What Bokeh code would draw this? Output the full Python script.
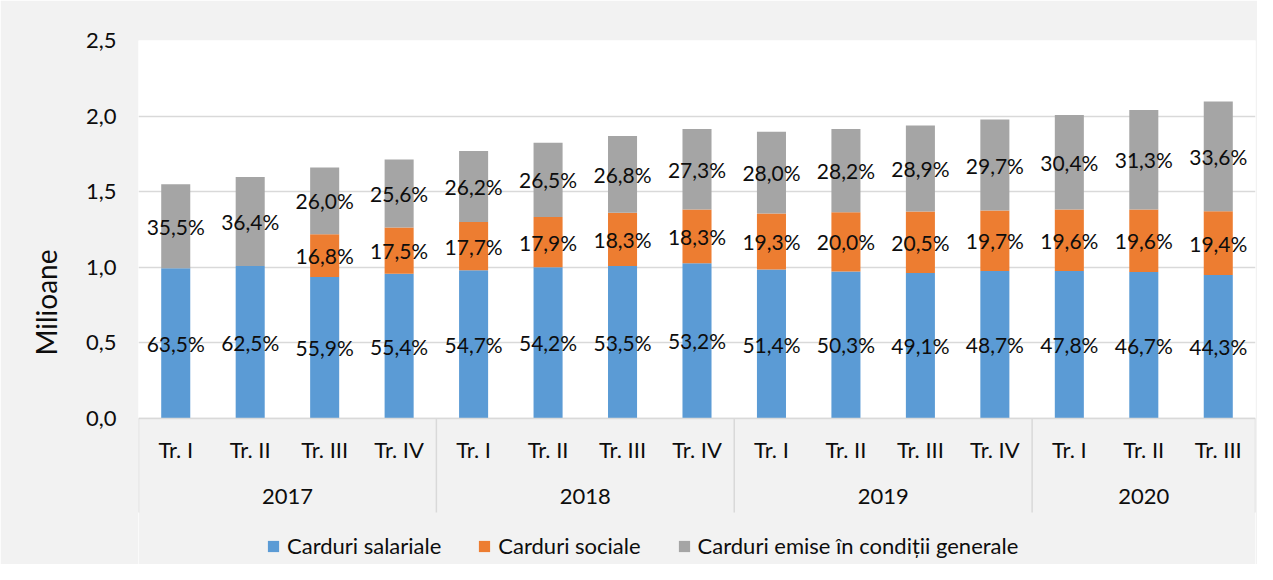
from bokeh.plotting import figure
from bokeh.models import FactorRange, Range1d, FixedTicker, ColumnDataSource, Legend, LegendItem
from bokeh.core.properties import value
from bokeh.embed import file_html
from bokeh.resources import INLINE

# ---- data (millions of cards) ----
years = ["2017"] * 4 + ["2018"] * 4 + ["2019"] * 4 + ["2020"] * 3
quarters = ["Tr. I", "Tr. II", "Tr. III", "Tr. IV"] * 3 + ["Tr. I", "Tr. II", "Tr. III"]
salariale = [0.993, 1.009, 0.936, 0.958, 0.980, 1.000, 1.009, 1.026, 0.985, 0.973, 0.962, 0.975, 0.975, 0.969, 0.949]
sociale = [0.0, 0.0, 0.283, 0.305, 0.320, 0.333, 0.351, 0.356, 0.371, 0.391, 0.407, 0.400, 0.407, 0.413, 0.422]
generale = [0.557, 0.589, 0.441, 0.450, 0.470, 0.490, 0.508, 0.532, 0.540, 0.550, 0.569, 0.603, 0.625, 0.658, 0.726]
sal_pct = ["63,5%", "62,5%", "55,9%", "55,4%", "54,7%", "54,2%", "53,5%", "53,2%", "51,4%", "50,3%", "49,1%", "48,7%", "47,8%", "46,7%", "44,3%"]
soc_pct = ["", "", "16,8%", "17,5%", "17,7%", "17,9%", "18,3%", "18,3%", "19,3%", "20,0%", "20,5%", "19,7%", "19,6%", "19,6%", "19,4%"]
gen_pct = ["35,5%", "36,4%", "26,0%", "25,6%", "26,2%", "26,5%", "26,8%", "27,3%", "28,0%", "28,2%", "28,9%", "29,7%", "30,4%", "31,3%", "33,6%"]
series_names = ["Carduri salariale", "Carduri sociale", "Carduri emise în condiții generale"]
ytick_vals = [0.0, 0.5, 1.0, 1.5, 2.0, 2.5]
ytick_labels = ["0,0", "0,5", "1,0", "1,5", "2,0", "2,5"]

# ---- styles ----
COLORS = ["#5B9BD5", "#ED7D31", "#A5A5A5"]
GRID = "#D9D9D9"
BG = "#F2F2F2"
TXT = "#0D0D0D"
FONT = value("Lato")
FS = "21px"      # data labels
FS_AX = "22px"   # axis texts

factors = list(zip(years, quarters))
x_range = FactorRange(factors=factors, factor_padding=0, group_padding=0,
                      subgroup_padding=0, range_padding=0)
Y_BOTTOM = -0.9656
p = figure(x_range=x_range, y_range=Range1d(Y_BOTTOM, 2.5),
           width=1257, height=564, output_backend="svg", toolbar_location=None,
           x_axis_location=None, min_border_left=138, min_border_right=2,
           min_border_top=40, min_border_bottom=0,
           background_fill_color="white", border_fill_color=BG,
           outline_line_color=None)

# grey region below the value axis (category axis area)
n = len(factors)
p.quad(left=[0], right=[n], bottom=[Y_BOTTOM], top=[0], fill_color=BG, line_color=None)

# stacked bars
src = ColumnDataSource(dict(x=factors, sal=salariale, soc=sociale, gen=generale))
rs = p.vbar_stack(["sal", "soc", "gen"], x="x", width=0.39, source=src,
                  fill_color=COLORS, line_color=None)

# data labels centred in each segment
lx, ly, lt = [], [], []
for i, f in enumerate(factors):
    b0 = 0.0
    for val, lab in ((salariale[i], sal_pct[i]), (sociale[i], soc_pct[i]), (generale[i], gen_pct[i])):
        if lab:
            lx.append(f)
            ly.append(b0 + val / 2)
            lt.append(lab)
        b0 += val
p.text(x="x", y="y", text="t", source=ColumnDataSource(dict(x=lx, y=ly, t=lt)),
       text_font=FONT, text_font_size=FS, text_color=TXT,
       text_align="center", text_baseline="middle")

# category axis (two levels) drawn inside the frame
AX_BOTTOM = -0.6217
p.segment(x0=[0], y0=[0], x1=[n], y1=[0], line_color=GRID, line_width=1.5)
bounds = [0]
for y in dict.fromkeys(years):
    bounds.append(bounds[-1] + years.count(y))
p.segment(x0=bounds, y0=[0] * len(bounds), x1=bounds, y1=[AX_BOTTOM] * len(bounds),
          line_color=GRID, line_width=1.5)
p.text(x=factors, y=[-0.205] * n, text=quarters, text_font=FONT, text_font_size=FS_AX,
       text_color=TXT, text_align="center", text_baseline="middle")
uy = list(dict.fromkeys(years))
p.text(x=uy, y=[-0.516] * len(uy), text=uy, text_font=FONT, text_font_size=FS_AX,
       text_color=TXT, text_align="center", text_baseline="middle")

# value axis
p.yaxis.ticker = FixedTicker(ticks=ytick_vals)
p.yaxis.major_label_overrides = {v: l for v, l in zip(ytick_vals, ytick_labels)}
p.yaxis.axis_line_color = None
p.yaxis.major_tick_line_color = None
p.yaxis.minor_tick_line_color = None
p.yaxis.major_tick_out = 0
p.yaxis.major_label_standoff = 22
p.yaxis.major_label_text_font = "Lato"
p.yaxis.major_label_text_font_size = FS_AX
p.yaxis.major_label_text_color = TXT
p.yaxis.axis_label = "Milioane"
p.yaxis.axis_label_text_font = "Lato"
p.yaxis.axis_label_text_font_size = "28px"
p.yaxis.axis_label_text_font_style = "normal"
p.yaxis.axis_label_text_color = TXT
p.yaxis.axis_label_standoff = 20
p.ygrid.ticker = FixedTicker(ticks=ytick_vals)
p.ygrid.grid_line_color = GRID
p.ygrid.grid_line_width = 1.3
p.xgrid.grid_line_color = None

legend = Legend(items=[LegendItem(label=nm, renderers=[r]) for nm, r in zip(series_names, rs)],
                orientation="horizontal", location=(128, 5),
                glyph_width=14, glyph_height=14, label_standoff=7, spacing=36,
                label_text_font="Lato", label_text_font_size="22px", label_text_color=TXT,
                background_fill_alpha=0, border_line_color=None, padding=0, margin=0)
p.add_layout(legend)

open("out.html", "w").write(file_html(p, INLINE))
